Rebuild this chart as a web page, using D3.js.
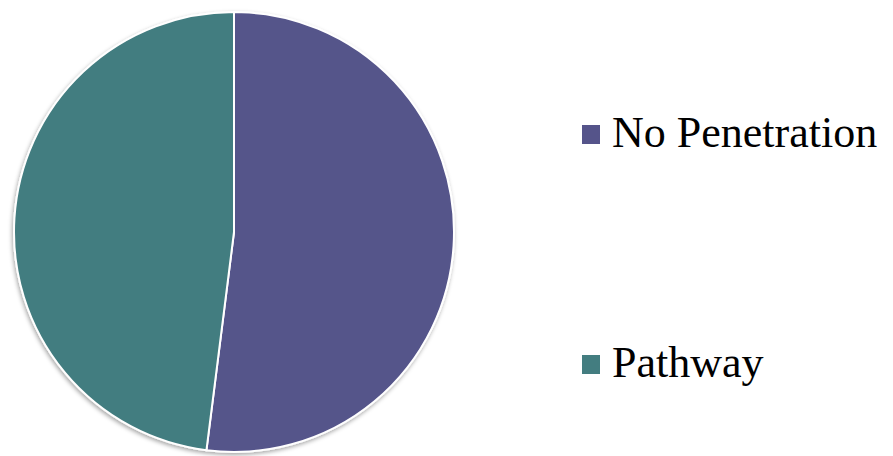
<!DOCTYPE html>
<html>
<head>
<meta charset="utf-8">
<script src="https://cdn.jsdelivr.net/npm/d3@7"></script>
<style>
  body { margin: 0; background: #fff; }
  .legend text { font-family: "Liberation Serif", "Times New Roman", serif; font-size: 44px; fill: #000; }
</style>
</head>
<body>
<script>
//chart data
var categories = ["No Penetration", "Pathway"];
var values = [52, 48];
var colors = ["#55548a", "#437d80"];

//frame dimensions
var width = 893,
    height = 456;

var svg = d3.select("body")
    .append("svg")
    .attr("width", width)
    .attr("height", height);

//soft shadow under the pie
var defs = svg.append("defs");
var filter = defs.append("filter")
    .attr("id", "shadow")
    .attr("x", "-10%").attr("y", "-10%")
    .attr("width", "120%").attr("height", "120%");
filter.append("feDropShadow")
    .attr("dx", -1)
    .attr("dy", 2)
    .attr("stdDeviation", 2)
    .attr("flood-color", "#000")
    .attr("flood-opacity", 0.35);

var cx = 234, cy = 232, radius = 220;

var pie = d3.pie()
    .sort(null)
    .value(function(d){ return d; });

var arc = d3.arc()
    .innerRadius(0)
    .outerRadius(radius);

var g = svg.append("g")
    .attr("transform", "translate(" + cx + "," + cy + ")")
    .attr("filter", "url(#shadow)");

g.selectAll(".slice")
    .data(pie(values))
    .enter()
    .append("path")
    .attr("class", "slice")
    .attr("d", arc)
    .attr("fill", function(d, i){ return colors[i]; })
    .attr("stroke", "#fff")
    .attr("stroke-width", 2)
    .attr("stroke-linejoin", "round");

//legend
var legendY = d3.scalePoint()
    .domain(categories)
    .range([147, 377]);

var legend = svg.append("g").attr("class", "legend");

var items = legend.selectAll(".item")
    .data(categories)
    .enter()
    .append("g")
    .attr("class", "item")
    .attr("transform", function(d){ return "translate(582," + legendY(d) + ")"; });

items.append("rect")
    .attr("x", 0)
    .attr("y", -22)
    .attr("width", 18)
    .attr("height", 19)
    .attr("fill", function(d, i){ return colors[i]; });

items.append("text")
    .attr("x", 30)
    .attr("y", 0)
    .text(function(d){ return d; });
</script>
</body>
</html>
